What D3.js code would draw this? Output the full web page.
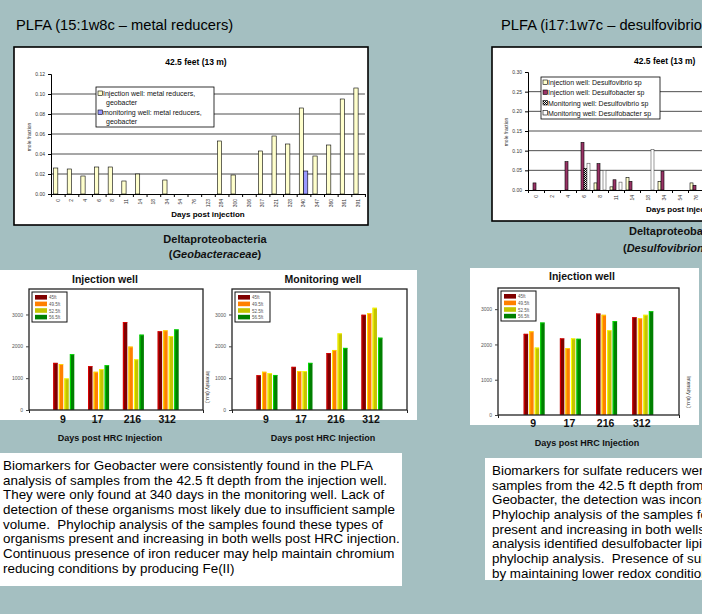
<!DOCTYPE html>
<html>
<head>
<meta charset="utf-8">
<script src="https://cdn.jsdelivr.net/npm/d3@7"></script>
<style>
html, body { margin: 0; padding: 0; background: #a4bfc1; overflow: hidden; }
svg { display: block; font-family: "Liberation Sans", Arial, sans-serif; }
</style>
</head>
<body>
<svg id="slide" width="702" height="614"></svg>
<script>
// ---- data ----
var dayLabels = ['0', '2', '4', '6', '8', '11', '14', '18', '34', '54', '76', '123', '284', '300', '306', '307', '321', '328', '340', '347', '360', '361', '391'];

// Geobacter (15:1w8c), mole fraction
var geoInjection  = [0.026, 0.025, 0.018, 0.027, 0.027, 0.013, 0.020, 0, 0.014, 0, 0, 0, 0.053, 0.019, 0, 0.043, 0.058, 0.050, 0.086, 0.038, 0.049, 0.095, 0.106];
var geoMonitoring = [0, 0, 0, 0, 0, 0, 0, 0, 0, 0, 0, 0, 0, 0, 0, 0, 0, 0, 0.023, 0, 0, 0, 0];

// sulfate reducers (i17:1w7c), mole fraction -- only the first 11 days are visible
var vibrioInjection  = [0, 0, 0, 0, 0.018, 0.008, 0.032, 0, 0.022, 0, 0.018];
var bacterInjection  = [0.018, 0, 0.072, 0.121, 0.067, 0.026, 0.022, 0, 0.048, 0, 0.012];
var vibrioMonitoring = [0, 0, 0, 0.055, 0, 0, 0, 0, 0, 0, 0];
var bacterMonitoring = [0, 0, 0, 0.068, 0.050, 0.020, 0, 0.103, 0, 0, 0];

// phylochip intensity, one row per day, one value per depth
var hrcDays = ['9', '17', '216', '312'];
var depths = ['45ft', '49.5ft', '52.5ft', '56.5ft'];
var depthColors = ['#800000', '#ff8000', '#c4c400', '#008000'];
var geoInjIntensity = [[1480, 1440, 990, 1750], [1375, 1200, 1280, 1405], [2760, 1990, 1590, 2365], [2470, 2500, 2320, 2530]];
var geoMonIntensity = [[1090, 1200, 1155, 1100], [1355, 1220, 1220, 1480], [1790, 1885, 2405, 1950], [2990, 3040, 3210, 2270]];
var sulfInjIntensity = [[2300, 2370, 1910, 2620], [2170, 1895, 2170, 2160], [2875, 2840, 2400, 2660], [2770, 2740, 2840, 2940]];

var geoText = [
    'Biomarkers for Geobacter were consistently found in the PLFA',
    'analysis of samples from the 42.5 ft depth from the injection well.',
    'They were only found at 340 days in the monitoring well. Lack of',
    'detection of these organisms most likely due to insufficient sample',
    'volume.  Phylochip analysis of the samples found these types of',
    'organisms present and increasing in both wells post HRC injection.',
    'Continuous presence of iron reducer may help maintain chromium',
    'reducing conditions by producing Fe(II)'
];
var sulfText = [
    'Biomarkers for sulfate reducers were found in the PLFA analysis of',
    'samples from the 42.5 ft depth from the injection well. Similar to',
    'Geobacter, the detection was inconsistent in the monitoring well.',
    'Phylochip analysis of the samples found these types of organisms',
    'present and increasing in both wells post HRC injection. PLFA',
    'analysis identified desulfobacter lipids consistent with the',
    'phylochip analysis.  Presence of sulfate reducers may help',
    'by maintaining lower redox conditions.'
];

var svg = d3.select('#slide');

// checkered fill used by "Monitoring well: Desulfovibrio sp"
var pat = svg.append('defs').append('pattern')
    .attr('id', 'checker').attr('patternUnits', 'userSpaceOnUse')
    .attr('width', 2).attr('height', 2);
pat.append('rect').attr('width', 2).attr('height', 2).attr('fill', '#fff');
pat.append('rect').attr('width', 1).attr('height', 1).attr('fill', '#000');
pat.append('rect').attr('x', 1).attr('y', 1).attr('width', 1).attr('height', 1).attr('fill', '#000');

function label(parent, x, y, str, opts) {
    opts = opts || {};
    return parent.append('text')
        .attr('x', x).attr('y', y)
        .attr('font-size', opts.size || 10)
        .attr('font-weight', opts.bold ? 'bold' : null)
        .attr('font-style', opts.italic ? 'italic' : null)
        .attr('text-anchor', opts.anchor || 'start')
        .attr('fill', opts.fill || '#000')
        .text(str);
}

function plfaChart(o) {
    var g = svg.append('g');
    g.append('rect')
        .attr('x', o.box[0]).attr('y', o.box[1]).attr('width', o.box[2]).attr('height', o.box[3])
        .attr('fill', '#fff').attr('stroke', '#000').attr('stroke-width', 1.6);

    var n = dayLabels.length;
    var x = d3.scaleBand().domain(d3.range(n)).range([o.x0, o.x0 + o.band * n]);
    var inner = d3.scaleBand().domain(d3.range(o.series.length))
        .range([0, x.bandwidth()]).paddingOuter(o.pad);
    var y = d3.scaleLinear().domain([0, o.yMax]).range([o.yBottom, o.yTop]);

    // gridlines
    g.append('g').selectAll('line')
        .data(y.ticks(6).filter(function(d) { return d > 0 && d < o.yMax - 1e-9; }))
        .join('line')
        .attr('x1', x.range()[0]).attr('x2', x.range()[1])
        .attr('y1', y).attr('y2', y)
        .attr('stroke', '#222').attr('stroke-width', 0.8);

    // bars
    o.series.forEach(function(s, si) {
        g.append('g').selectAll('rect')
            .data(s.values.map(function(v, i) { return {i: i, v: v}; })
                .filter(function(d) { return d.v > 0; }))
            .join('rect')
            .attr('x', function(d) { return x(d.i) + inner(si); })
            .attr('y', function(d) { return y(d.v); })
            .attr('width', inner.bandwidth())
            .attr('height', function(d) { return y(0) - y(d.v); })
            .attr('fill', s.fill)
            .attr('stroke', s.stroke || '#000').attr('stroke-width', 0.6);
    });

    // y axis
    var ya = g.append('g').attr('transform', 'translate(' + o.x0 + ',0)')
        .call(d3.axisLeft(y).ticks(6).tickFormat(d3.format('.2f')).tickSize(3));
    ya.select('.domain').attr('stroke', '#000').attr('stroke-width', 1);
    ya.selectAll('.tick line').attr('stroke', '#000');
    ya.selectAll('.tick text').attr('font-size', 5).attr('fill', '#333')
        .attr('font-family', '"Liberation Sans", Arial, sans-serif');

    // x axis: tick marks on category boundaries, rotated labels
    var xt = d3.scaleLinear().domain([0, n]).range(x.range());
    var xa = g.append('g').attr('transform', 'translate(0,' + o.yBottom + ')')
        .call(d3.axisBottom(xt).ticks(n).tickFormat('').tickSize(3).tickSizeOuter(0));
    xa.select('.domain').attr('stroke', '#000').attr('stroke-width', 1);
    xa.selectAll('.tick line').attr('stroke', '#000');

    g.append('g').selectAll('text')
        .data(dayLabels)
        .join('text')
        .attr('transform', function(d, i) {
            return 'translate(' + (x(i) + x.bandwidth() / 2 + 1.8) + ',' + (o.yBottom + 5) + ') rotate(-90)';
        })
        .attr('text-anchor', 'end')
        .attr('font-size', 5).attr('fill', '#333')
        .text(function(d) { return d; });

    label(g, o.title[0], o.title[1], '42.5 feet (13 m)', {size: 8.5, bold: true, anchor: o.title[2]});
    label(g, o.xLabel[0], o.xLabel[1], 'Days post injection', {size: 8, bold: true, anchor: o.xLabel[2]});
    label(g, 0, 0, 'mole fraction', {size: 5, anchor: 'middle', fill: '#333'})
        .attr('transform', 'translate(' + o.yLabel[0] + ',' + o.yLabel[1] + ') rotate(-90)');

    // legend
    var lg = g.append('g');
    lg.append('rect')
        .attr('x', o.legend.x).attr('y', o.legend.y).attr('width', o.legend.w).attr('height', o.legend.h)
        .attr('fill', '#fff').attr('stroke', '#000').attr('stroke-width', 0.8);
    o.legend.items.forEach(function(it) {
        var s = o.series[it.series];
        lg.append('rect')
            .attr('x', o.legend.x + 2).attr('y', it.y - 5).attr('width', 4.5).attr('height', 4.5)
            .attr('fill', s.fill).attr('stroke', '#000').attr('stroke-width', 0.6);
        it.lines.forEach(function(line, li) {
            label(lg, o.legend.x + 7 + (li ? 3 : 0), it.y + li * 8.5, line, {size: 7, fill: '#111'});
        });
    });
}

function hrcChart(o) {
    var g = svg.append('g');
    var x = d3.scaleLinear().domain([0, 5]).range([o.frame[0], o.frame[0] + o.frame[2]]);
    var inner = d3.scaleBand().domain(d3.range(depths.length)).range([-10.5, 10.5]).paddingInner(0.2);
    var y = d3.scaleLinear().domain([0, o.yMax]).range([o.frame[1] + o.frame[3], o.frame[1]]);

    o.data.forEach(function(row, di) {
        g.append('g').selectAll('g')
            .data(row)
            .join('g')
            .each(function(v, k) {
                var b = d3.select(this);
                var bx = x(di + 1) + inner(k);
                b.append('rect')
                    .attr('x', bx).attr('y', y(v))
                    .attr('width', inner.bandwidth()).attr('height', y(0) - y(v))
                    .attr('fill', depthColors[k]);
                // light edge like the original 3-D look
                b.append('rect')
                    .attr('x', bx).attr('y', y(v))
                    .attr('width', 1).attr('height', y(0) - y(v))
                    .attr('fill', d3.color(depthColors[k]).brighter(1.6));
                b.append('rect')
                    .attr('x', bx).attr('y', y(v))
                    .attr('width', inner.bandwidth()).attr('height', 0.8)
                    .attr('fill', d3.color(depthColors[k]).brighter(1.6));
            });
    });

    g.append('rect')
        .attr('x', o.frame[0]).attr('y', o.frame[1]).attr('width', o.frame[2]).attr('height', o.frame[3])
        .attr('fill', 'none').attr('stroke', '#222').attr('stroke-width', 1.3);

    var ya = g.append('g').attr('transform', 'translate(' + o.frame[0] + ',0)')
        .call(d3.axisLeft(y).tickValues([0, 1000, 2000, 3000]).tickFormat(d3.format('d')).tickSize(3));
    ya.select('.domain').remove();
    ya.selectAll('.tick line').attr('stroke', '#444');
    ya.selectAll('.tick text').attr('font-size', 5).attr('fill', '#555')
        .attr('font-family', '"Liberation Sans", Arial, sans-serif');

    var xa = g.append('g').attr('transform', 'translate(0,' + (o.frame[1] + o.frame[3]) + ')')
        .call(d3.axisBottom(x).tickValues([0, 5]).tickFormat('').tickSize(3));
    xa.select('.domain').remove();
    xa.selectAll('.tick line').attr('stroke', '#222');

    // legend
    var lx = o.frame[0] + 3, ly = o.frame[1] + 3;
    g.append('rect').attr('x', lx).attr('y', ly).attr('width', 35).attr('height', 30)
        .attr('fill', '#fff').attr('stroke', '#111').attr('stroke-width', 1);
    depths.forEach(function(d, k) {
        g.append('rect').attr('x', lx + 3).attr('y', ly + 3 + k * 6.6).attr('width', 12).attr('height', 4.6)
            .attr('fill', depthColors[k]);
        label(g, lx + 17, ly + 7.3 + k * 6.6, d, {size: 4.5, fill: '#555'});
    });

    label(g, o.titleX, o.titleY, o.title, {size: 10.5, bold: true, anchor: 'middle', fill: '#111'});
    return {g: g, x: x};
}

function hrcLabels(chart, o) {
    var g = svg.append('g');
    g.selectAll('text')
        .data(hrcDays)
        .join('text')
        .attr('x', function(d, i) { return chart.x(i + 1) - 1; })
        .attr('y', o.labelY)
        .attr('text-anchor', 'middle')
        .attr('font-size', 10.5).attr('font-weight', 'bold').attr('fill', '#111')
        .text(function(d) { return d; });
    label(g, o.daysX, o.daysY, 'Days post HRC Injection', {size: 9, bold: true, anchor: 'middle', fill: '#111'});
    if (o.intensity) {
        label(g, 0, 0, 'Intensity (a.u.)', {size: 5, anchor: 'middle', fill: '#222'})
            .attr('transform', 'translate(' + o.intensity[0] + ',' + o.intensity[1] + ') rotate(90)');
    }
}

// ---- slide headings ----
label(svg, 16, 30, 'PLFA (15:1w8c \u2013 metal reducers)', {size: 14.7});
label(svg, 501, 30, 'PLFA (i17:1w7c \u2013 desulfovibrio and desulfobacter)', {size: 14.7});

// ---- Geobacter PLFA chart ----
plfaChart({
    box: [14, 47, 354, 178],
    x0: 51, band: 13.65, pad: 0.6, yTop: 74, yBottom: 194, yMax: 0.12,
    title: [196, 65, 'middle'], xLabel: [208, 217, 'middle'], yLabel: [31, 137],
    series: [
        {values: geoInjection, fill: '#ffffcc'},
        {values: geoMonitoring, fill: '#9999ff'}
    ],
    legend: {
        x: 96, y: 87, w: 118, h: 40,
        items: [
            {series: 0, lines: ['Injection well: metal reducers,', 'geobacter'], y: 96},
            {series: 1, lines: ['monitoring well:  metal reducers,', 'geobacter'], y: 115}
        ]
    }
});

var heading = svg.append('g');
label(heading, 215, 243, 'Deltaproteobacteria', {size: 11, bold: true, anchor: 'middle', fill: '#111'});
var geoFam = label(heading, 215, 258, '(', {size: 11, bold: true, anchor: 'middle', fill: '#111'});
geoFam.append('tspan').attr('font-style', 'italic').text('Geobacteraceae');
geoFam.append('tspan').text(')');

// ---- sulfate reducer PLFA chart ----
plfaChart({
    box: [492, 47, 400, 174],
    x0: 528, band: 16, pad: 0.67, yTop: 72, yBottom: 190, yMax: 0.30,
    title: [634, 64, 'start'], xLabel: [646, 212, 'start'], yLabel: [508, 132],
    series: [
        {values: vibrioInjection, fill: '#ffffcc'},
        {values: bacterInjection, fill: '#993366'},
        {values: vibrioMonitoring, fill: 'url(#checker)'},
        {values: bacterMonitoring, fill: '#ffffff', stroke: '#555'}
    ],
    legend: {
        x: 541, y: 77, w: 119, h: 42,
        items: [
            {series: 0, lines: ['Injection well:  Desulfovibrio sp'], y: 85},
            {series: 1, lines: ['Injection well:  Desulfobacter sp'], y: 95},
            {series: 2, lines: ['Monitoring well:  Desulfovibrio sp'], y: 105.5},
            {series: 3, lines: ['Monitoring well:  Desulfobacter sp'], y: 115.5}
        ]
    }
});

var sulfFam = label(heading, 623, 252, '(', {size: 11, bold: true, fill: '#111'});
label(heading, 629, 235, 'Deltaproteobacteria', {size: 11, bold: true, fill: '#111'});
sulfFam.append('tspan').attr('font-style', 'italic').text('Desulfovibrionaceae');
sulfFam.append('tspan').text(')');

// ---- phylochip panels ----
svg.append('rect').attr('x', 0).attr('y', 270).attr('width', 417).attr('height', 150).attr('fill', '#fff');
svg.append('rect').attr('x', 470).attr('y', 268).attr('width', 229).attr('height', 157).attr('fill', '#fff');

var geoInj = hrcChart({frame: [29, 289, 174, 121], yMax: 3800, data: geoInjIntensity,
    title: 'Injection well', titleX: 105, titleY: 283});
var geoMon = hrcChart({frame: [232, 289, 175, 121], yMax: 3800, data: geoMonIntensity,
    title: 'Monitoring well', titleX: 323, titleY: 283});
var sulfInj = hrcChart({frame: [498, 288, 181, 127], yMax: 3600, data: sulfInjIntensity,
    title: 'Injection well', titleX: 582, titleY: 280});

hrcLabels(geoInj, {labelY: 423, daysX: 110, daysY: 441, intensity: [206, 387]});
hrcLabels(geoMon, {labelY: 423, daysX: 323, daysY: 441});
hrcLabels(sulfInj, {labelY: 427, daysX: 587, daysY: 446, intensity: [687, 392]});

// ---- text boxes ----
function textBox(box, lines, x0, y0) {
    var g = svg.append('g');
    g.append('rect').attr('x', box[0]).attr('y', box[1]).attr('width', box[2]).attr('height', box[3])
        .attr('fill', '#fff');
    g.selectAll('text')
        .data(lines)
        .join('text')
        .attr('x', x0)
        .attr('y', function(d, i) { return y0 + i * 14.65; })
        .attr('font-size', 13.4).attr('fill', '#000')
        .attr('xml:space', 'preserve').style('white-space', 'pre')
        .text(function(d) { return d; });
}
textBox([0, 453, 402, 133], geoText, 3, 470);
textBox([485, 458, 230, 122], sulfText, 492, 475);
</script>
</body>
</html>
